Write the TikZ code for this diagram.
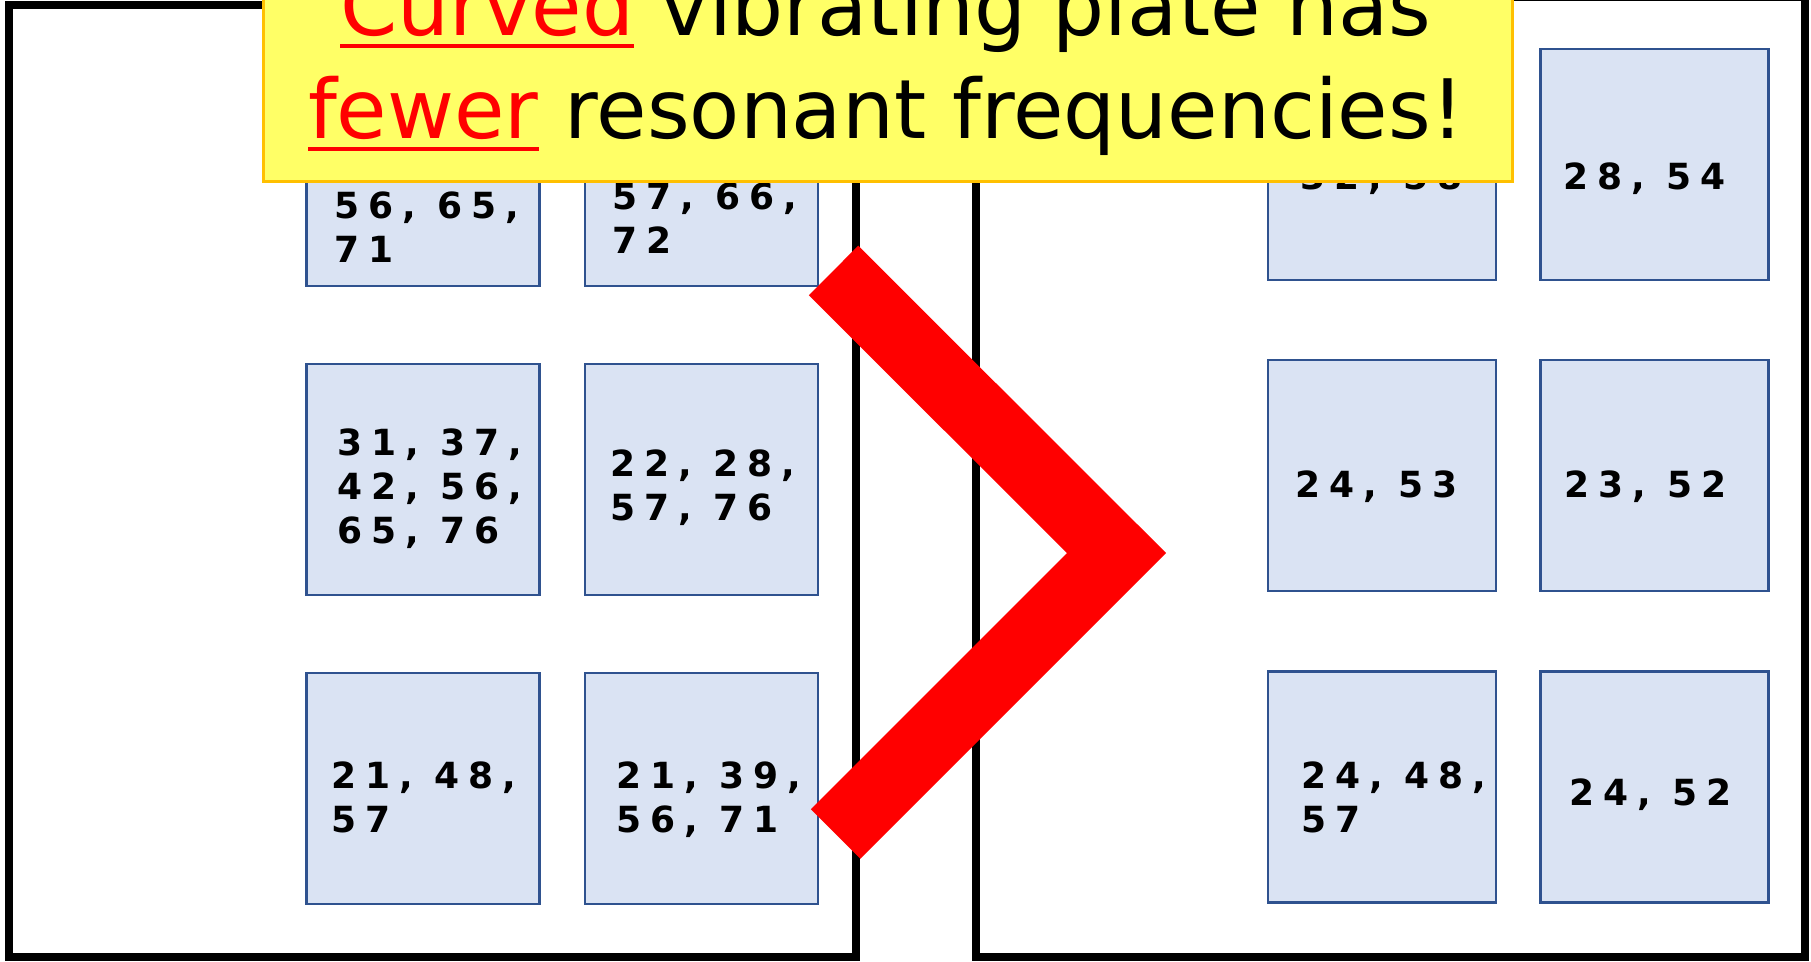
\documentclass[tikz,border=0pt]{standalone}
\usepackage{fontspec}
\newfontfamily\titlefont{DejaVu Sans}
\newfontfamily\numfont[LetterSpace=25]{DejaVu Sans}
\definecolor{boxfill}{HTML}{DAE3F3}
\definecolor{boxline}{HTML}{2F528F}
\definecolor{noteyellow}{HTML}{FFFF66}
\definecolor{noteline}{HTML}{FFC000}
\definecolor{chevred}{HTML}{FF0000}
\newcommand{\redul}[1]{{\color{chevred}\setbox0\hbox{#1}\rlap{\vrule height -9pt depth 13pt width \wd0}\box0}}
\tikzset{
  plate/.style={draw=black, line width=8pt, fill=white, inner sep=0pt},
  cell/.style={draw=boxline, fill=boxfill, line width=2.2pt, inner sep=0pt, minimum height=231pt},
  lcell/.style={cell, minimum width=233pt},
  rcell/.style={cell, minimum width=228pt},
  freq/.style={font={\numfont\bfseries\fontsize{36}{44}\selectfont}, align=left, inner sep=0pt, anchor=base west},
  note/.style={draw=noteline, fill=noteyellow, line width=3pt, inner sep=0pt, minimum width=1249pt, minimum height=211pt},
  notetext/.style={font={\titlefont\fontsize{82}{103}\selectfont}, align=center, inner sep=0pt, anchor=base},
  chev/.style={draw=chevred, line width=70pt, line join=miter, line cap=butt}
}
\begin{document}
\begin{tikzpicture}[x=1pt, y=-1pt]
\useasboundingbox (0,0) rectangle (1811,961);
\clip (0,0) rectangle (1811,961);
% plates
\node[plate, minimum width=847pt, minimum height=952.5pt] (leftplate) at (432.5,480.75) {};
\node[plate, minimum width=829pt, minimum height=960pt] (rightplate) at (1390.5,477) {};
% left cells
\node[lcell] (l11) at (423,170.5) {};
\node[lcell] (l12) at (701.5,170.5) {};
\node[lcell] (l21) at (423,479.5) {};
\node[lcell] (l22) at (701.5,479.5) {};
\node[lcell] (l31) at (423,788.5) {};
\node[lcell] (l32) at (701.5,788.5) {};
% right cells
\node[rcell] (r11) at (1382,164.5) {};
\node[rcell] (r12) at (1654.5,164.5) {};
\node[rcell] (r21) at (1382,475.5) {};
\node[rcell] (r22) at (1654.5,475.5) {};
\node[rcell] (r31) at (1382,787) {};
\node[rcell] (r32) at (1654.5,787) {};
% frequencies (anchor = baseline of the last line)
\node[freq] (t11) at (334,262) {56, 65,\\71};
\node[freq] (t12) at (612,253) {57, 66,\\72};
\node[freq] (t21) at (337,543) {31, 37,\\42, 56,\\65, 76};
\node[freq] (t22) at (610,520) {22, 28,\\57, 76};
\node[freq] (t31) at (331,832) {21, 48,\\57};
\node[freq] (t32) at (616,832) {21, 39,\\56, 71};
\node[freq] (u11) at (1300,189) {32, 58};
\node[freq] (u12) at (1563,189) {28, 54};
\node[freq] (u21) at (1295,497) {24, 53};
\node[freq] (u22) at (1564,497) {23, 52};
\node[freq] (u31) at (1301,832) {24, 48,\\57};
\node[freq] (u32) at (1569,805) {24, 52};
% chevron
\coordinate (ctop) at (833.5,270.5);
\coordinate (ctip) at (1116.5,553);
\coordinate (cbot) at (835.5,834);
\draw[chev] (ctop) -- (ctip) -- (cbot);
% note
\node[note] (notebox) at (887.5,75.5) {};
\node[notetext] (notelabel) at (886,138) {\redul{Curved} vibrating plate has\\\redul{fewer} resonant frequencies!};
\end{tikzpicture}
\end{document}
